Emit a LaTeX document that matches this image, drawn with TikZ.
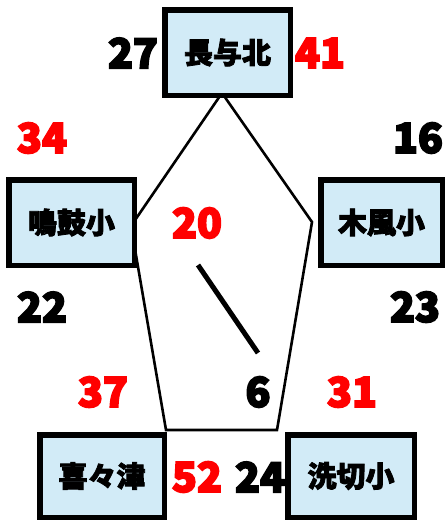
\documentclass[tikz,border=0pt]{standalone}
\usepackage{fontspec}
\newfontfamily\cjk{Noto Sans CJK JP Black}
\definecolor{boxfill}{RGB}{210,235,247}
\definecolor{numred}{RGB}{255,0,0}
\newcommand{\heavytext}[1]{\special{pdf:literal direct 2 Tr 1.8 w}#1\special{pdf:literal direct 0 Tr}}
\newcommand{\boldtext}[1]{\special{pdf:literal direct 2 Tr 0.8 w}#1\special{pdf:literal direct 0 Tr}}
\begin{document}
\begin{tikzpicture}[x=1pt,y=1pt,
  school/.style={draw=black,line width=5.5pt,fill=boxfill,inner sep=0pt,
    font=\cjk\fontsize{29}{29}\selectfont},
  num/.style={inner sep=0pt,font=\cjk\fontsize{41}{41}\selectfont},
  rednum/.style={num,text=numred},
  blknum/.style={num,text=black},
  edge/.style={draw=black,line width=2.6pt,line join=miter}
]
\useasboundingbox (0,0) rectangle (445,-522);
% pentagon vertices
\coordinate (pT) at (222,-93);
\coordinate (pL) at (131,-226);
\coordinate (pR) at (312,-222);
\coordinate (pBL) at (166,-430);
\coordinate (pBR) at (277,-430);
\draw[edge] (pT) -- (pR) -- (pBR) -- (pBL) -- (pL) -- cycle;
% diagonal stroke
\coordinate (dA) at (198,-265);
\coordinate (dB) at (258,-353);
\draw[black,line width=5pt] (dA) -- (dB);
% boxes
\node[school,minimum width=125.5pt,minimum height=85.5pt] (nagayo) at (227.5,-52.5) {\boldtext{長与北}};
\node[school,minimum width=125.5pt,minimum height=85.5pt] (naruko) at (71.5,-222.5) {\boldtext{鳴鼓小}};
\node[school,minimum width=121.5pt,minimum height=85.5pt] (kikaze) at (381.5,-222.5) {\boldtext{木風小}};
\node[school,minimum width=124.5pt,minimum height=82.5pt] (kikitsu) at (102,-476) {\boldtext{喜々津}};
\node[school,minimum width=126.5pt,minimum height=82.5pt] (araikiri) at (351,-476) {\boldtext{洗切小}};
% numbers
\node[blknum] (n27) at (133,-53) {\heavytext{27}};
\node[rednum] (n41) at (320,-53) {\heavytext{41}};
\node[rednum] (n34) at (42,-138) {\heavytext{34}};
\node[blknum] (n16) at (418,-138) {\heavytext{16}};
\node[rednum] (n20) at (197,-223) {\heavytext{20}};
\node[blknum] (n22) at (42,-307) {\heavytext{22}};
\node[blknum] (n23) at (415,-307) {\heavytext{23}};
\node[rednum] (n37) at (103,-392) {\heavytext{37}};
\node[blknum] (n6) at (258,-392) {\heavytext{6}};
\node[rednum] (n31) at (352,-392) {\heavytext{31}};
\node[rednum] (n52) at (197,-477) {\heavytext{52}};
\node[blknum] (n24) at (260,-477) {\heavytext{24}};
\end{tikzpicture}
\end{document}
